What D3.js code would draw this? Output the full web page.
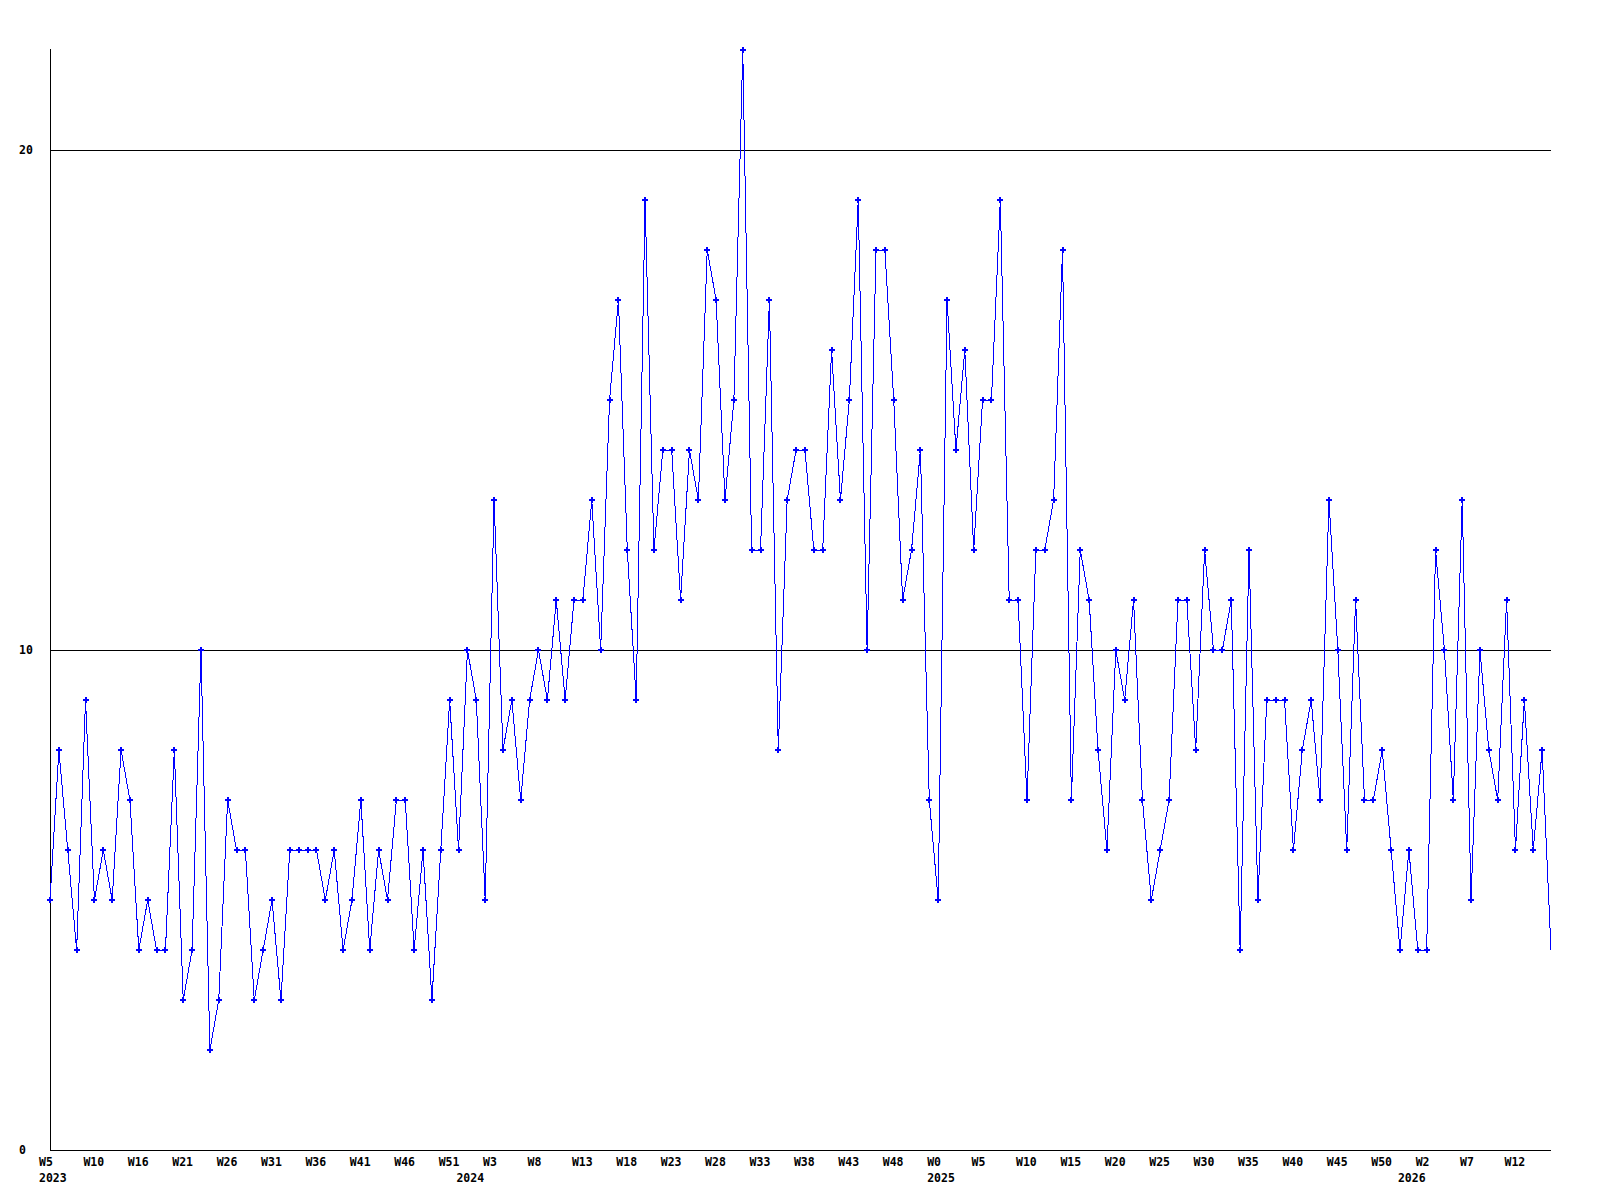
<!DOCTYPE html>
<html>
<head>
<meta charset="utf-8">
<script src="https://cdn.jsdelivr.net/npm/d3@7/dist/d3.min.js"></script>
<style>
  html, body { margin: 0; padding: 0; background: #ffffff; }
  svg { display: block; }
  text { font-family: "DejaVu Sans Mono", "Liberation Mono", monospace; font-weight: bold; font-size: 11.5px; fill: #000; }
</style>
</head>
<body>
<svg id="chart" width="1600" height="1200"></svg>
<script>
// Weekly values, 2023 W5 .. 2026 (~W16)
const values = [
  5,8,6,4,9,5,6,5,8,7,
  4,5,4,4,8,3,4,10,2,3,
  7,6,6,3,4,5,3,6,6,6,
  6,5,6,4,5,7,4,6,5,7,
  7,4,6,3,6,9,6,10,9,5,
  13,8,9,7,9,10,9,11,9,11,
  11,13,10,15,17,12,9,19,12,14,
  14,11,14,13,18,17,13,15,22,12,
  12,17,8,13,14,14,12,12,16,13,
  15,19,10,18,18,15,11,12,14,7,
  5,17,14,16,12,15,15,19,11,11,
  7,12,12,13,18,7,12,11,8,6,
  10,9,11,7,5,6,7,11,11,8,
  12,10,10,11,4,12,5,9,9,9,
  6,8,9,7,13,10,6,11,7,7,
  8,6,4,6,4,4,12,10,7,13,
  5,10,8,7,11,6,9,6,8,4
];
// Week tick labels, one every 5 points
const tickLabels = ["W5","W10","W16","W21","W26","W31","W36","W41","W46","W51",
  "W3","W8","W13","W18","W23","W28","W33","W38","W43","W48",
  "W0","W5","W10","W15","W20","W25","W30","W35","W40","W45",
  "W50","W2","W7","W12"];
const tickStep = 5;
// Year labels and the point index where each year begins
const yearLabels = ["2023","2024","2025","2026"];
const yearStartIndex = [0, 47, 100, 153];
// Y axis labels / gridlines
const yTicks = [0, 10, 20];

const svg = d3.select("#chart");
const M = { left: 50, right: 1551, top: 50, bottom: 1150 };

const x = d3.scaleLinear().domain([0, values.length - 1]).range([M.left, M.right]);
const y = d3.scaleLinear().domain([0, d3.max(values)]).range([M.bottom, M.top]);

// clip (right edge only)
svg.append("defs").append("clipPath").attr("id", "plotclip")
  .append("rect").attr("x", 0).attr("y", 0).attr("width", M.right).attr("height", M.bottom + 2);

// gridlines
svg.append("g").selectAll("line").data(yTicks.filter(d => d > 0)).join("line")
  .attr("x1", M.left).attr("x2", M.right)
  .attr("y1", d => Math.round(y(d)) + 0.5).attr("y2", d => Math.round(y(d)) + 0.5)
  .attr("stroke", "#000").attr("stroke-width", 1).attr("shape-rendering", "crispEdges");

// axes lines
svg.append("line").attr("x1", M.left + 0.5).attr("x2", M.left + 0.5)
  .attr("y1", y(d3.max(values)) - 1).attr("y2", M.bottom + 0.5)
  .attr("stroke", "#000").attr("stroke-width", 1).attr("shape-rendering", "crispEdges");
svg.append("line").attr("x1", M.left).attr("x2", M.right)
  .attr("y1", M.bottom + 0.5).attr("y2", M.bottom + 0.5)
  .attr("stroke", "#000").attr("stroke-width", 1).attr("shape-rendering", "crispEdges");

// y labels
svg.append("g").selectAll("text").data(yTicks).join("text")
  .attr("x", 19).attr("y", d => y(d) + 4)
  .attr("text-anchor", "start")
  .text(d => d);

// x tick labels
svg.append("g").selectAll("text").data(tickLabels).join("text")
  .attr("x", (d, i) => x(i * tickStep) - 11)
  .attr("y", 1166)
  .attr("text-anchor", "start")
  .text(d => d);

// year labels
svg.append("g").selectAll("text").data(yearLabels).join("text")
  .attr("x", (d, i) => x(yearStartIndex[i]) - 11)
  .attr("y", 1182)
  .attr("text-anchor", "start")
  .text(d => d);

// line
const line = d3.line().x((d, i) => x(i)).y(d => y(d));
const g = svg.append("g").attr("clip-path", "url(#plotclip)");
g.append("path").datum(values)
  .attr("d", line)
  .attr("fill", "none").attr("stroke", "#0000ff").attr("stroke-width", 1)
  .attr("shape-rendering", "crispEdges");

// markers (small plus signs)
g.selectAll("path.mk").data(values.slice(0, values.length - 1)).join("path")
  .attr("class", "mk")
  .attr("transform", (d, i) => `translate(${x(i)},${y(d)})`)
  .attr("d", "M-3,0H3M0,-3V3")
  .attr("stroke", "#0000ff").attr("stroke-width", 2)
  .attr("shape-rendering", "crispEdges");
</script>
</body>
</html>
